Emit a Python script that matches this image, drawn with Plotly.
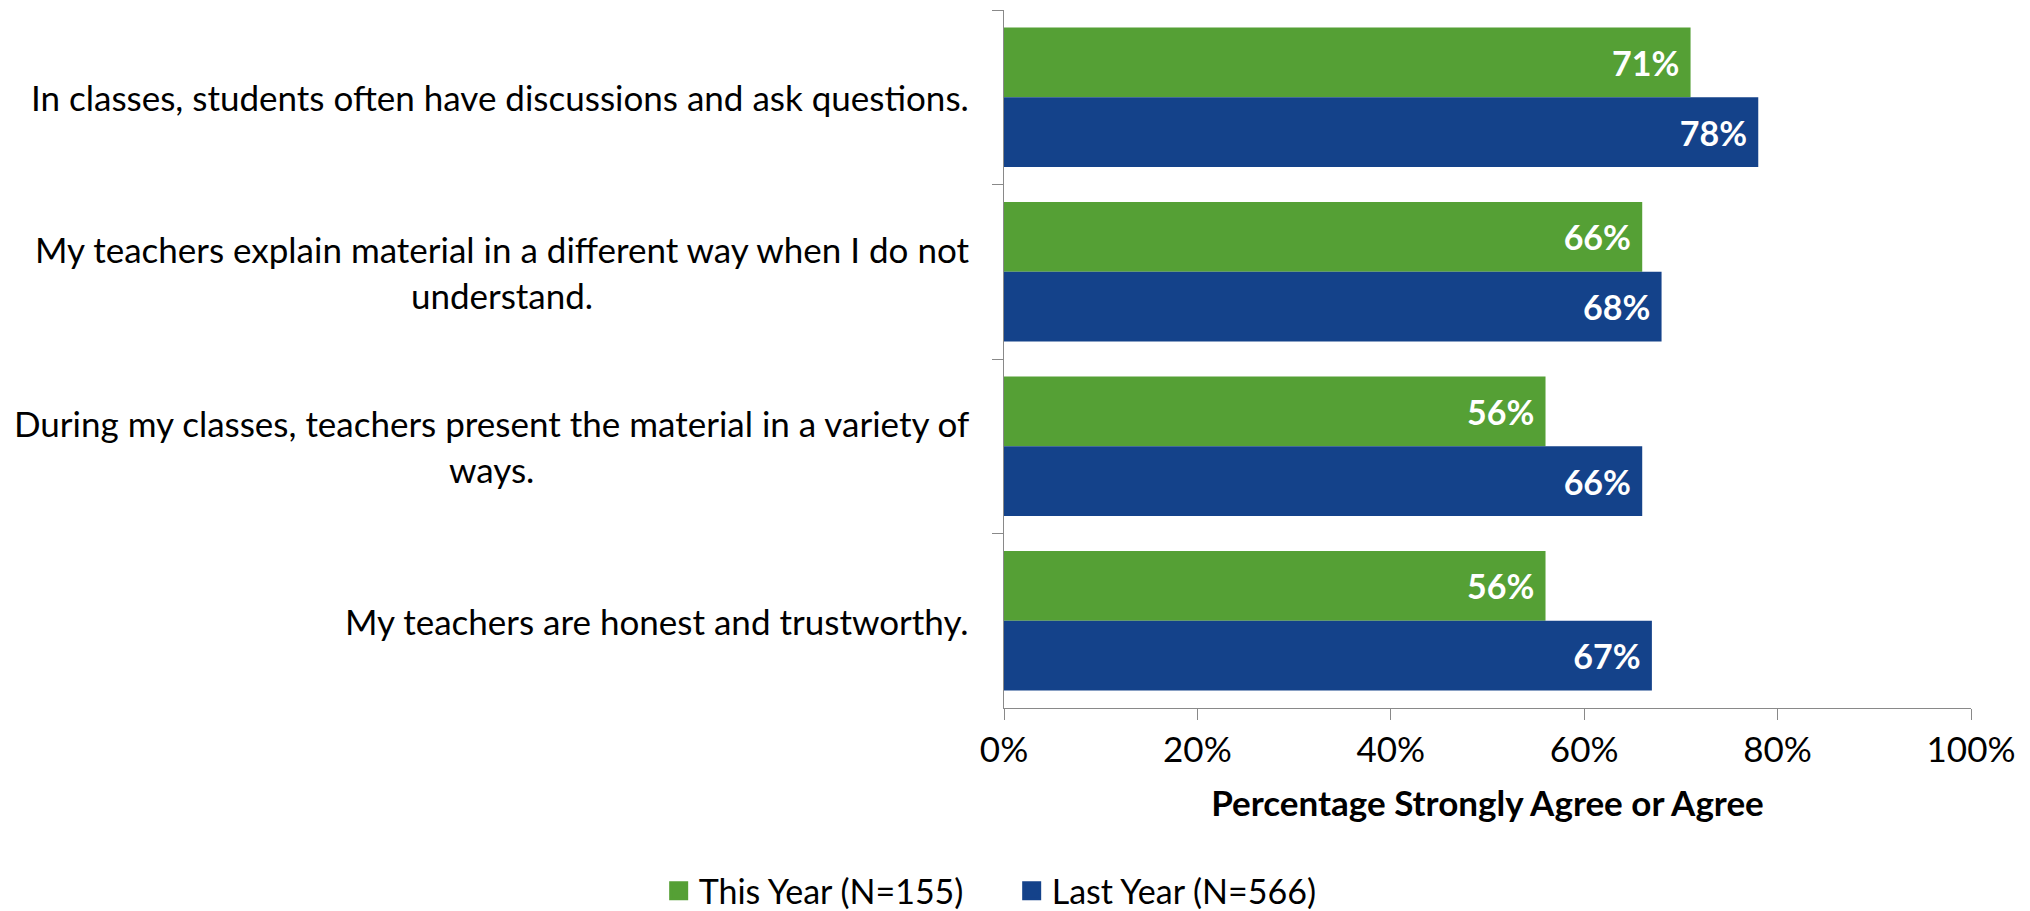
import plotly.graph_objects as go

categories = [
    "In classes, students often have discussions and ask questions.",
    "My teachers explain material in a different way when I do not<br>understand.",
    "During my classes, teachers present the material in a variety of<br>ways.",
    "My teachers are honest and trustworthy.",
]
this_year = [71, 66, 56, 56]
last_year = [78, 68, 66, 67]
series_names = ["This Year (N=155)", "Last Year (N=566)"]
x_ticks = [0, 20, 40, 60, 80, 100]
x_tick_labels = ["0%", "20%", "40%", "60%", "80%", "100%"]
x_title = "Percentage Strongly Agree or Agree"

GREEN = "#55A035"
BLUE = "#14428A"
FONT = "Lato"
FS = 35
NB = "\u00a0"

fig = go.Figure()
for name, vals, col in [(series_names[0], this_year, GREEN), (series_names[1], last_year, BLUE)]:
    fig.add_trace(go.Bar(
        y=categories, x=vals, orientation="h", name=name, legendgroup=name, showlegend=False,
        marker=dict(color=col, line=dict(width=0)),
        text=[f"{v}%{NB}" for v in vals], textposition="inside", insidetextanchor="end",
        textfont=dict(family=FONT, size=34, color="white", weight="bold"),
        cliponaxis=False,
    ))
    # legend entry with a larger square swatch
    fig.add_trace(go.Scatter(
        x=[None], y=[None], mode="markers", name=name, legendgroup=name,
        marker=dict(symbol="square", size=16, color=col, line=dict(color=col, width=3)),
        showlegend=True,
    ))

for c in categories:
    fig.add_annotation(
        x=0, xref="paper", y=c, yref="y", text=c, showarrow=False,
        xanchor="right", xshift=-33, align="center",
        font=dict(family=FONT, size=FS, color="#000000"),
    )

fig.update_layout(
    width=2022, height=903,
    margin=dict(l=995.5, r=59.3, t=2, b=203.3, autoexpand=False),
    paper_bgcolor="white", plot_bgcolor="white",
    barmode="group", bargap=0.2, bargroupgap=0,
    font=dict(family=FONT, size=FS, color="#000000"),
    showlegend=True,
    legend=dict(orientation="h", xref="container", yref="container",
                x=0.3218, xanchor="left", y=0.022, yanchor="middle",
                font=dict(family=FONT, size=34), traceorder="normal",
                itemsizing="trace", itemwidth=30, tracegroupgap=0,
                entrywidth=308, entrywidthmode="pixels"),
)
fig.update_xaxes(
    range=[0, 100], tickvals=x_ticks, ticktext=x_tick_labels, automargin=False,
    showgrid=False, zeroline=False, showline=True, linecolor="#898989", linewidth=1.4,
    ticks="outside", ticklen=11, tickcolor="#898989", tickwidth=1.4,
    tickfont=dict(family=FONT, size=FS), ticklabelstandoff=0,
    title=dict(text=f"<b>{x_title}</b>", font=dict(family=FONT, size=FS), standoff=23),
)
fig.update_yaxes(
    autorange="reversed", showticklabels=False, tickson="boundaries", automargin=False,
    showgrid=False, zeroline=False, showline=True, linecolor="#898989", linewidth=1.4,
    ticks="outside", ticklen=11, tickcolor="#898989", tickwidth=1.4,
)

fig.write_html("out.html")
